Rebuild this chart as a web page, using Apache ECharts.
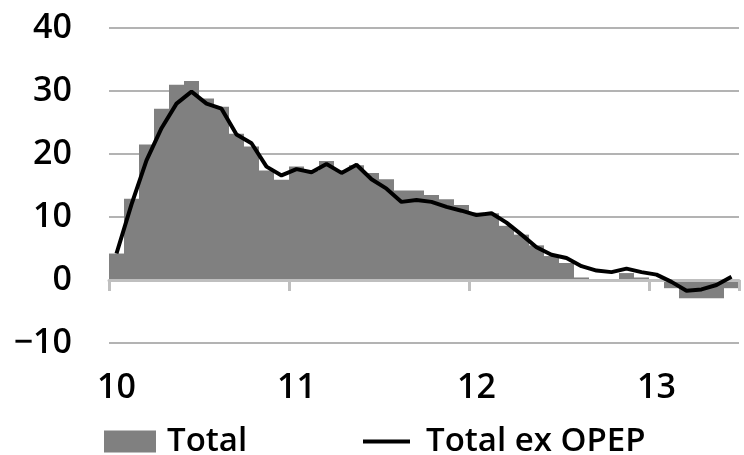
<!DOCTYPE html>
<html>
<head>
<meta charset="utf-8">
<script src="https://cdn.jsdelivr.net/npm/echarts@6/dist/echarts.min.js"></script>
<style>
html,body{margin:0;padding:0;background:#fff;}
#chart{width:744px;height:455px;}
</style>
</head>
<body>
<div id="chart"></div>
<script>
const yearLabels = ['10', '11', '12', '13'];
const monthsPerYear = 12;
const months = [];
yearLabels.forEach(function (y) {
  for (let m = 1; m <= monthsPerYear; m++) months.push(y + '-' + (m < 10 ? '0' + m : m));
});
const categories = months.slice(0, 42);

const totalValues = [
  4.2, 12.9, 21.5, 27.2, 31.0, 31.6, 28.8, 27.5, 23.2, 21.2, 17.4, 15.9,
  18.0, 17.3, 18.9, 17.4, 18.2, 17.0, 16.0, 14.2, 14.2, 13.5, 12.8, 11.9,
  10.7, 10.6, 8.6, 7.2, 5.5, 3.8, 2.7, 0.4, 0.1, 0.1, 1.1, 0.4,
  -0.2, -1.3, -2.9, -2.9, -2.9, -1.3
];
const totalExOpepValues = [
  4.2, 12.0, 19.0, 24.1, 28.0, 29.9, 28.0, 27.2, 23.1, 21.7, 18.0, 16.6,
  17.6, 17.1, 18.4, 17.0, 18.3, 16.0, 14.5, 12.4, 12.7, 12.4, 11.6, 11.0,
  10.3, 10.6, 9.1, 7.2, 5.2, 4.0, 3.5, 2.2, 1.5, 1.25, 1.8, 1.25,
  0.85, -0.3, -1.7, -1.5, -0.8, 0.5
];
const yTicks = { min: -10, max: 40, interval: 10 };

const FONT = '"Open Sans", "DejaVu Sans", sans-serif';
const chart = echarts.init(document.getElementById('chart'), null, { renderer: 'canvas' });
chart.setOption({
  animation: false,
  backgroundColor: '#ffffff',
  grid: { left: 109, right: 5, top: 28, bottom: 112, containLabel: false },
  legend: [
    {
      data: [{ name: 'Total', icon: 'rect' }],
      left: 104, top: 425, padding: 0,
      itemWidth: 52, itemHeight: 22,
      textStyle: { fontFamily: FONT, fontWeight: 600, fontSize: 33, color: '#000', padding: [0, 0, 0, 6] }
    },
    {
      data: [{ name: 'Total ex OPEP', icon: 'rect', itemStyle: { color: '#000' } }],
      left: 363, top: 425, padding: 0,
      itemWidth: 47, itemHeight: 4,
      textStyle: { fontFamily: FONT, fontWeight: 600, fontSize: 33, color: '#000', padding: [0, 0, 0, 11] }
    }
  ],
  xAxis: [
    {
      type: 'category',
      data: categories,
      boundaryGap: true,
      axisLine: { onZero: true, lineStyle: { color: '#bfbfbf', width: 3 } },
      axisTick: { show: true, interval: monthsPerYear - 1, length: 11, lineStyle: { color: '#bfbfbf', width: 3 } },
      axisLabel: { show: false },
      splitLine: { show: false },
      splitArea: { show: false },
      z: 5
    },
    {
      type: 'category',
      data: categories,
      boundaryGap: true,
      position: 'bottom',
      axisLine: { show: false, onZero: false },
      axisTick: { show: false },
      axisLabel: {
        show: true,
        interval: monthsPerYear - 1,
        margin: 28,
        fontFamily: FONT, fontWeight: 600, fontSize: 34, color: '#000',
        formatter: function (v) { return v.split('-')[0]; }
      },
      splitLine: { show: false },
      splitArea: { show: false }
    }
  ],
  yAxis: {
    type: 'value',
    min: yTicks.min, max: yTicks.max, interval: yTicks.interval,
    axisLine: { show: false },
    axisTick: { show: false },
    axisLabel: {
      margin: 37,
      fontFamily: FONT, fontWeight: 600, fontSize: 34, color: '#000',
      formatter: function (v) { return String(v).replace('-', '\u2212'); }
    },
    splitLine: { show: true, lineStyle: { color: '#9a9a9a', width: 1.5 } }
  },
  series: [
    {
      name: 'Total',
      type: 'bar',
      xAxisIndex: 0,
      data: totalValues,
      barWidth: '100%',
      itemStyle: { color: '#808080', borderWidth: 0 },
      z: 2
    },
    {
      name: 'Total ex OPEP',
      type: 'line',
      xAxisIndex: 0,
      data: totalExOpepValues,
      symbol: 'none',
      showSymbol: false,
      lineStyle: { color: '#000', width: 4 },
      itemStyle: { color: '#000' },
      z: 6
    }
  ]
});
</script>
</body>
</html>
